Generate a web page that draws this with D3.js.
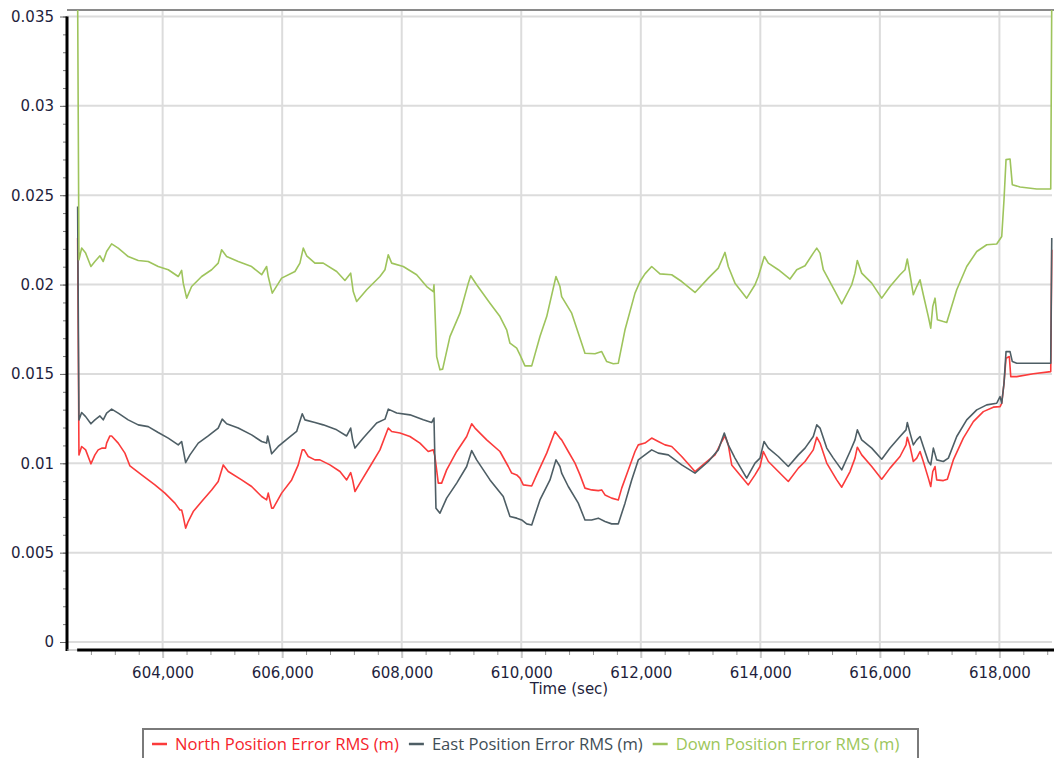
<!DOCTYPE html>
<html><head><meta charset="utf-8">
<script src="https://cdn.jsdelivr.net/npm/d3@7"></script>
<style>body{margin:0;background:#fff}svg{display:block}</style>
</head><body>
<svg id="chart" width="1054" height="758"></svg>
<script>
// ---------- data ----------
const seriesNames = ["North Position Error RMS (m)", "East Position Error RMS (m)", "Down Position Error RMS (m)"];
const seriesColors = ["#fb3b3b", "#4e5e65", "#9ec45c"];
const legendTextColors = ["#f5242c", "#3f4e56", "#9cc65a"];

const northRms = [[602578,0.0226],[602600,0.01047],[602645,0.01094],[602712,0.01075],[602800,0.00997],[602867,0.01047],[602922,0.01075],[602989,0.01085],[603046,0.01085],[603063,0.01113],[603118,0.01153],[603147,0.01153],[603257,0.01113],[603369,0.01057],[603453,0.00985],[603649,0.00935],[603871,0.00879],[604038,0.00833],[604206,0.00777],[604289,0.00739],[604318,0.00739],[604345,0.00702],[604385,0.00637],[604428,0.00674],[604512,0.0073],[604653,0.00786],[604820,0.00851],[604930,0.00898],[605014,0.00991],[605098,0.00954],[605322,0.00907],[605489,0.0087],[605657,0.00814],[605740,0.00795],[605767,0.00833],[605824,0.00749],[605851,0.00749],[605991,0.00833],[606159,0.00907],[606269,0.00991],[606336,0.01075],[606369,0.01075],[606436,0.01038],[606548,0.01019],[606632,0.01019],[606799,0.00991],[606967,0.00954],[607079,0.00907],[607146,0.00948],[607179,0.00907],[607218,0.00842],[607301,0.00889],[607469,0.00982],[607636,0.01075],[607775,0.01197],[607832,0.01178],[607971,0.01169],[608138,0.0115],[608305,0.01113],[608444,0.01066],[608528,0.01075],[608556,0.01038],[608612,0.00889],[608668,0.00889],[608752,0.00963],[608920,0.01066],[609087,0.0115],[609171,0.01221],[609226,0.01197],[609422,0.01131],[609644,0.01066],[609783,0.00982],[609840,0.00945],[609924,0.00935],[609979,0.00917],[610034,0.00879],[610175,0.00873],[610258,0.00935],[610426,0.01057],[610564,0.01178],[610648,0.01141],[610676,0.01131],[610787,0.01066],[610899,0.01001],[610983,0.00935],[611066,0.00861],[611178,0.00851],[611289,0.00847],[611346,0.00851],[611401,0.00823],[611513,0.00805],[611624,0.00795],[611681,0.00861],[611791,0.00963],[611903,0.01066],[611958,0.01103],[612070,0.01113],[612182,0.01141],[612293,0.01122],[612405,0.01103],[612517,0.01094],[612685,0.01038],[612907,0.00954],[613074,0.01001],[613242,0.01047],[613354,0.01122],[613409,0.01153],[613464,0.01103],[613521,0.00991],[613660,0.00935],[613799,0.00879],[613911,0.00935],[613995,0.00982],[614050,0.01066],[614134,0.0101],[614301,0.00954],[614468,0.00898],[614636,0.00973],[614748,0.0101],[614886,0.01075],[614944,0.01146],[614999,0.01113],[615111,0.01001],[615278,0.00907],[615362,0.00866],[615501,0.00954],[615584,0.01029],[615623,0.0109],[615696,0.01047],[615864,0.00982],[616031,0.00911],[616170,0.00973],[616337,0.01038],[616438,0.01103],[616459,0.01146],[616505,0.01094],[616560,0.0101],[616617,0.01029],[616672,0.01066],[616727,0.0101],[616811,0.00917],[616851,0.0087],[616885,0.00954],[616923,0.00982],[616951,0.00907],[617062,0.00903],[617129,0.00911],[617229,0.01019],[617396,0.01141],[617564,0.01233],[617731,0.01289],[617898,0.01314],[618011,0.01317],[618039,0.01336],[618077,0.01448],[618111,0.01588],[618166,0.01597],[618190,0.01485],[618290,0.01485],[618568,0.01501],[618859,0.01513],[618876,0.02195]];

const eastRms = [[602578,0.02437],[602600,0.01243],[602645,0.01284],[602712,0.01261],[602800,0.01221],[602867,0.01243],[602951,0.01265],[603006,0.01243],[603063,0.01281],[603147,0.01303],[603257,0.01281],[603424,0.01243],[603592,0.01215],[603759,0.01205],[603926,0.01172],[604094,0.01141],[604261,0.01103],[604318,0.01122],[604345,0.01075],[604385,0.01004],[604457,0.01047],[604596,0.01113],[604763,0.01153],[604930,0.01197],[604997,0.01247],[605071,0.01221],[605265,0.01197],[605489,0.01159],[605657,0.01122],[605740,0.01113],[605757,0.01153],[605824,0.01053],[605934,0.01094],[606102,0.01141],[606242,0.01178],[606336,0.01277],[606381,0.01243],[606548,0.01228],[606687,0.01215],[606912,0.01187],[607079,0.01153],[607146,0.01197],[607179,0.01131],[607218,0.01085],[607357,0.01141],[607581,0.01225],[607720,0.01247],[607775,0.01303],[607916,0.01281],[608138,0.01271],[608361,0.01243],[608501,0.01228],[608540,0.01253],[608573,0.00749],[608640,0.00721],[608752,0.00805],[608920,0.00889],[609087,0.00982],[609171,0.01071],[609254,0.01019],[609477,0.00907],[609699,0.00814],[609811,0.00702],[609924,0.00693],[610007,0.00683],[610091,0.00661],[610175,0.00655],[610313,0.00795],[610481,0.00907],[610581,0.01019],[610648,0.00982],[610676,0.00945],[610787,0.0087],[610954,0.00777],[611066,0.00683],[611178,0.00683],[611289,0.00693],[611401,0.00674],[611513,0.00661],[611624,0.00661],[611736,0.00777],[611848,0.00907],[611958,0.01019],[612070,0.01047],[612182,0.01075],[612293,0.01057],[612460,0.01047],[612685,0.00991],[612907,0.00945],[613130,0.0101],[613297,0.01075],[613397,0.01169],[613464,0.01103],[613576,0.01029],[613772,0.00917],[613911,0.01001],[613995,0.01029],[614062,0.01122],[614134,0.01085],[614301,0.01038],[614468,0.00982],[614636,0.01047],[614748,0.01085],[614886,0.0115],[614944,0.01215],[614999,0.01197],[615111,0.01085],[615221,0.01029],[615362,0.00963],[615501,0.01066],[615584,0.01131],[615623,0.01187],[615696,0.01131],[615864,0.01085],[616031,0.01023],[616170,0.01085],[616337,0.0115],[616438,0.01187],[616459,0.01228],[616505,0.01169],[616560,0.01103],[616617,0.01131],[616672,0.0115],[616727,0.01094],[616811,0.0101],[616851,0.00991],[616895,0.01085],[616951,0.01019],[617062,0.0101],[617146,0.01029],[617286,0.0115],[617453,0.01243],[617621,0.01299],[617788,0.01327],[617955,0.01336],[618011,0.01373],[618039,0.01336],[618077,0.01448],[618111,0.01625],[618178,0.01625],[618216,0.01569],[618290,0.0156],[618859,0.0156],[618876,0.0226]];

const downRms = [[602578,0.036],[602600,0.02139],[602645,0.02204],[602712,0.02176],[602800,0.02101],[602867,0.02129],[602951,0.02161],[603006,0.02129],[603063,0.02185],[603147,0.02228],[603257,0.02204],[603424,0.02157],[603592,0.02135],[603759,0.02129],[603926,0.02101],[604094,0.02083],[604261,0.02045],[604318,0.02079],[604345,0.02008],[604402,0.01924],[604485,0.01989],[604653,0.02045],[604820,0.02083],[604930,0.0212],[604987,0.02195],[605071,0.02157],[605265,0.02129],[605489,0.02101],[605657,0.02055],[605740,0.02101],[605767,0.02045],[605834,0.01952],[605991,0.02036],[606214,0.02073],[606297,0.0212],[606353,0.02204],[606410,0.02161],[606548,0.0212],[606687,0.0212],[606912,0.02073],[607050,0.02023],[607146,0.02064],[607189,0.01961],[607246,0.01905],[607414,0.01971],[607636,0.02045],[607720,0.02083],[607775,0.02167],[607832,0.0212],[608026,0.02101],[608250,0.02055],[608418,0.01989],[608528,0.01961],[608540,0.01999],[608585,0.01597],[608640,0.01523],[608685,0.01527],[608807,0.01709],[608975,0.0184],[609114,0.02008],[609154,0.02049],[609254,0.01999],[609477,0.01896],[609644,0.01821],[609756,0.01747],[609811,0.01672],[609924,0.01644],[609979,0.01607],[610062,0.01545],[610175,0.01545],[610313,0.01709],[610426,0.01821],[610581,0.02045],[610648,0.01989],[610676,0.01933],[610844,0.0184],[611011,0.01672],[611066,0.01616],[611234,0.01613],[611346,0.01625],[611430,0.01569],[611540,0.01557],[611624,0.0156],[611736,0.01747],[611903,0.01952],[611987,0.02017],[612070,0.0206],[612182,0.02101],[612321,0.0206],[612517,0.02055],[612685,0.02017],[612907,0.01956],[613130,0.02036],[613297,0.02092],[613409,0.0218],[613464,0.02101],[613576,0.02008],[613772,0.01924],[613911,0.01999],[613966,0.02045],[614067,0.02157],[614134,0.0212],[614301,0.02083],[614497,0.02031],[614609,0.02083],[614748,0.02105],[614886,0.02176],[614944,0.02204],[614999,0.02176],[615054,0.02083],[615221,0.0198],[615362,0.01892],[615529,0.01999],[615584,0.02064],[615623,0.02135],[615696,0.02064],[615864,0.02008],[616031,0.01924],[616170,0.01989],[616337,0.02055],[616421,0.02083],[616459,0.02143],[616505,0.02055],[616560,0.01943],[616617,0.01989],[616672,0.02027],[616727,0.01943],[616811,0.01821],[616851,0.01756],[616885,0.01877],[616923,0.01924],[616962,0.01803],[617062,0.01793],[617119,0.01788],[617286,0.01971],[617453,0.02101],[617621,0.02185],[617788,0.02223],[617955,0.02227],[618039,0.02269],[618077,0.02475],[618111,0.02699],[618178,0.02703],[618216,0.02559],[618346,0.02546],[618625,0.02535],[618859,0.02535],[618876,0.036]];

const xMajorTicks = [604000, 606000, 608000, 610000, 612000, 614000, 616000, 618000];
const xMinorTicks = d3.range(602800, 618900, 400);
const yMajorTicks = [0, 0.005, 0.01, 0.015, 0.02, 0.025, 0.03, 0.035];
const yTickLabels = ["0", "0.005", "0.01", "0.015", "0.02", "0.025", "0.03", "0.035"];
const yMinorTicks = d3.range(0, 0.0351, 0.001);
const xTitle = "Time (sec)";

// ---------- layout ----------
const svg = d3.select("#chart");
const P = {left: 67, right: 1052, top: 10, bottom: 650};
const x = d3.scaleLinear().domain([602400, 618880]).range([P.left, P.right]);
const y = d3.scaleLinear().domain([0, 0.035]).range([642, 16.5]);
const axisFont = "DejaVu Sans, Verdana, sans-serif";
const labelColor = "#1f1f3d";

// gridlines
const grid = svg.append("g");
grid.selectAll("line.v").data(xMajorTicks).join("line")
  .attr("x1", d => x(d)).attr("x2", d => x(d)).attr("y1", P.top).attr("y2", P.bottom)
  .attr("stroke", "#dcdcdc").attr("stroke-width", 2);
grid.selectAll("line.h").data(yMajorTicks).join("line")
  .attr("x1", P.left).attr("x2", P.right).attr("y1", d => y(d)).attr("y2", d => y(d))
  .attr("stroke", "#dcdcdc").attr("stroke-width", 2);

// top frame
svg.append("line").attr("x1", P.left).attr("x2", 1054).attr("y1", P.top).attr("y2", P.top)
  .attr("stroke", "#8a8a8a").attr("stroke-width", 2);

// lines
svg.append("defs").append("clipPath").attr("id", "clip").append("rect")
  .attr("x", P.left).attr("y", P.top).attr("width", 1054 - P.left).attr("height", P.bottom - P.top);
const line = d3.line().x(d => x(d[0])).y(d => y(d[1]));
const gl = svg.append("g").attr("clip-path", "url(#clip)");
[northRms, eastRms, downRms].forEach((s, i) => {
  gl.append("path").datum(s).attr("d", line).attr("fill", "none")
    .attr("stroke", seriesColors[i]).attr("stroke-width", 1.6).attr("stroke-linejoin", "round");
});

// y axis
const yMinor = svg.append("g").attr("transform", `translate(${P.left},0)`)
  .call(d3.axisLeft(y).tickValues(yMinorTicks).tickSize(4).tickFormat(""));
yMinor.select(".domain").remove();
yMinor.selectAll("line").attr("stroke", "#777");
const yAxis = svg.append("g").attr("transform", `translate(${P.left},0)`)
  .call(d3.axisLeft(y).tickValues(yMajorTicks).tickSize(7).tickPadding(6).tickFormat((d, i) => yTickLabels[i]));
yAxis.select(".domain").remove();
yAxis.selectAll("line").attr("stroke", "#666");
yAxis.selectAll("text").attr("font-family", axisFont).attr("font-size", 15).attr("fill", labelColor);

// x axis
const xMinor = svg.append("g").attr("transform", `translate(0,${P.bottom})`)
  .call(d3.axisBottom(x).tickValues(xMinorTicks).tickSize(5).tickFormat(""));
xMinor.select(".domain").remove();
xMinor.selectAll("line").attr("stroke", "#999");
const xAxis = svg.append("g").attr("transform", `translate(0,${P.bottom})`)
  .call(d3.axisBottom(x).tickValues(xMajorTicks).tickSize(8).tickPadding(9).tickFormat(d3.format(",")));
xAxis.select(".domain").remove();
xAxis.selectAll("line").attr("stroke", "#c8c8c8").attr("stroke-width", 2);
xAxis.selectAll("text").attr("font-family", axisFont).attr("font-size", 15).attr("fill", labelColor);

// axis lines
svg.append("line").attr("x1", P.left).attr("x2", P.left).attr("y1", y(0.035)).attr("y2", P.bottom + 1)
  .attr("stroke", "#000").attr("stroke-width", 3);
svg.append("line").attr("x1", P.left).attr("x2", x(602570)).attr("y1", P.bottom).attr("y2", P.bottom)
  .attr("stroke", "#aaa").attr("stroke-width", 1);
svg.append("line").attr("x1", x(602570)).attr("x2", 1054).attr("y1", P.bottom).attr("y2", P.bottom)
  .attr("stroke", "#000").attr("stroke-width", 3);

// x title
svg.append("text").attr("x", 569).attr("y", 694).attr("text-anchor", "middle")
  .attr("font-family", axisFont).attr("font-size", 15).attr("fill", labelColor).text(xTitle);

// legend
const lg = svg.append("g");
lg.append("rect").attr("x", 143).attr("y", 729).attr("width", 775).attr("height", 40)
  .attr("fill", "#fff").attr("stroke", "#7a7a7a").attr("stroke-width", 2);
const legendFont = "Open Sans, DejaVu Sans, sans-serif";
// size the legend font so the first label spans about the reference width
const probe = svg.append("text").attr("font-family", legendFont).attr("font-size", 14).text(seriesNames[0]);
const fs = 14 * 224 / probe.node().getComputedTextLength();
probe.remove();
let cx = 152;
seriesNames.forEach((name, i) => {
  lg.append("line").attr("x1", cx).attr("x2", cx + 15).attr("y1", 744).attr("y2", 744)
    .attr("stroke", seriesColors[i]).attr("stroke-width", 2.5);
  const t = lg.append("text").attr("x", cx + 23).attr("y", 744).attr("dy", "0.35em")
    .attr("font-family", legendFont).attr("font-size", fs).attr("fill", legendTextColors[i]).text(name);
  cx += 23 + t.node().getComputedTextLength() + 10;
});
</script>
</body></html>
